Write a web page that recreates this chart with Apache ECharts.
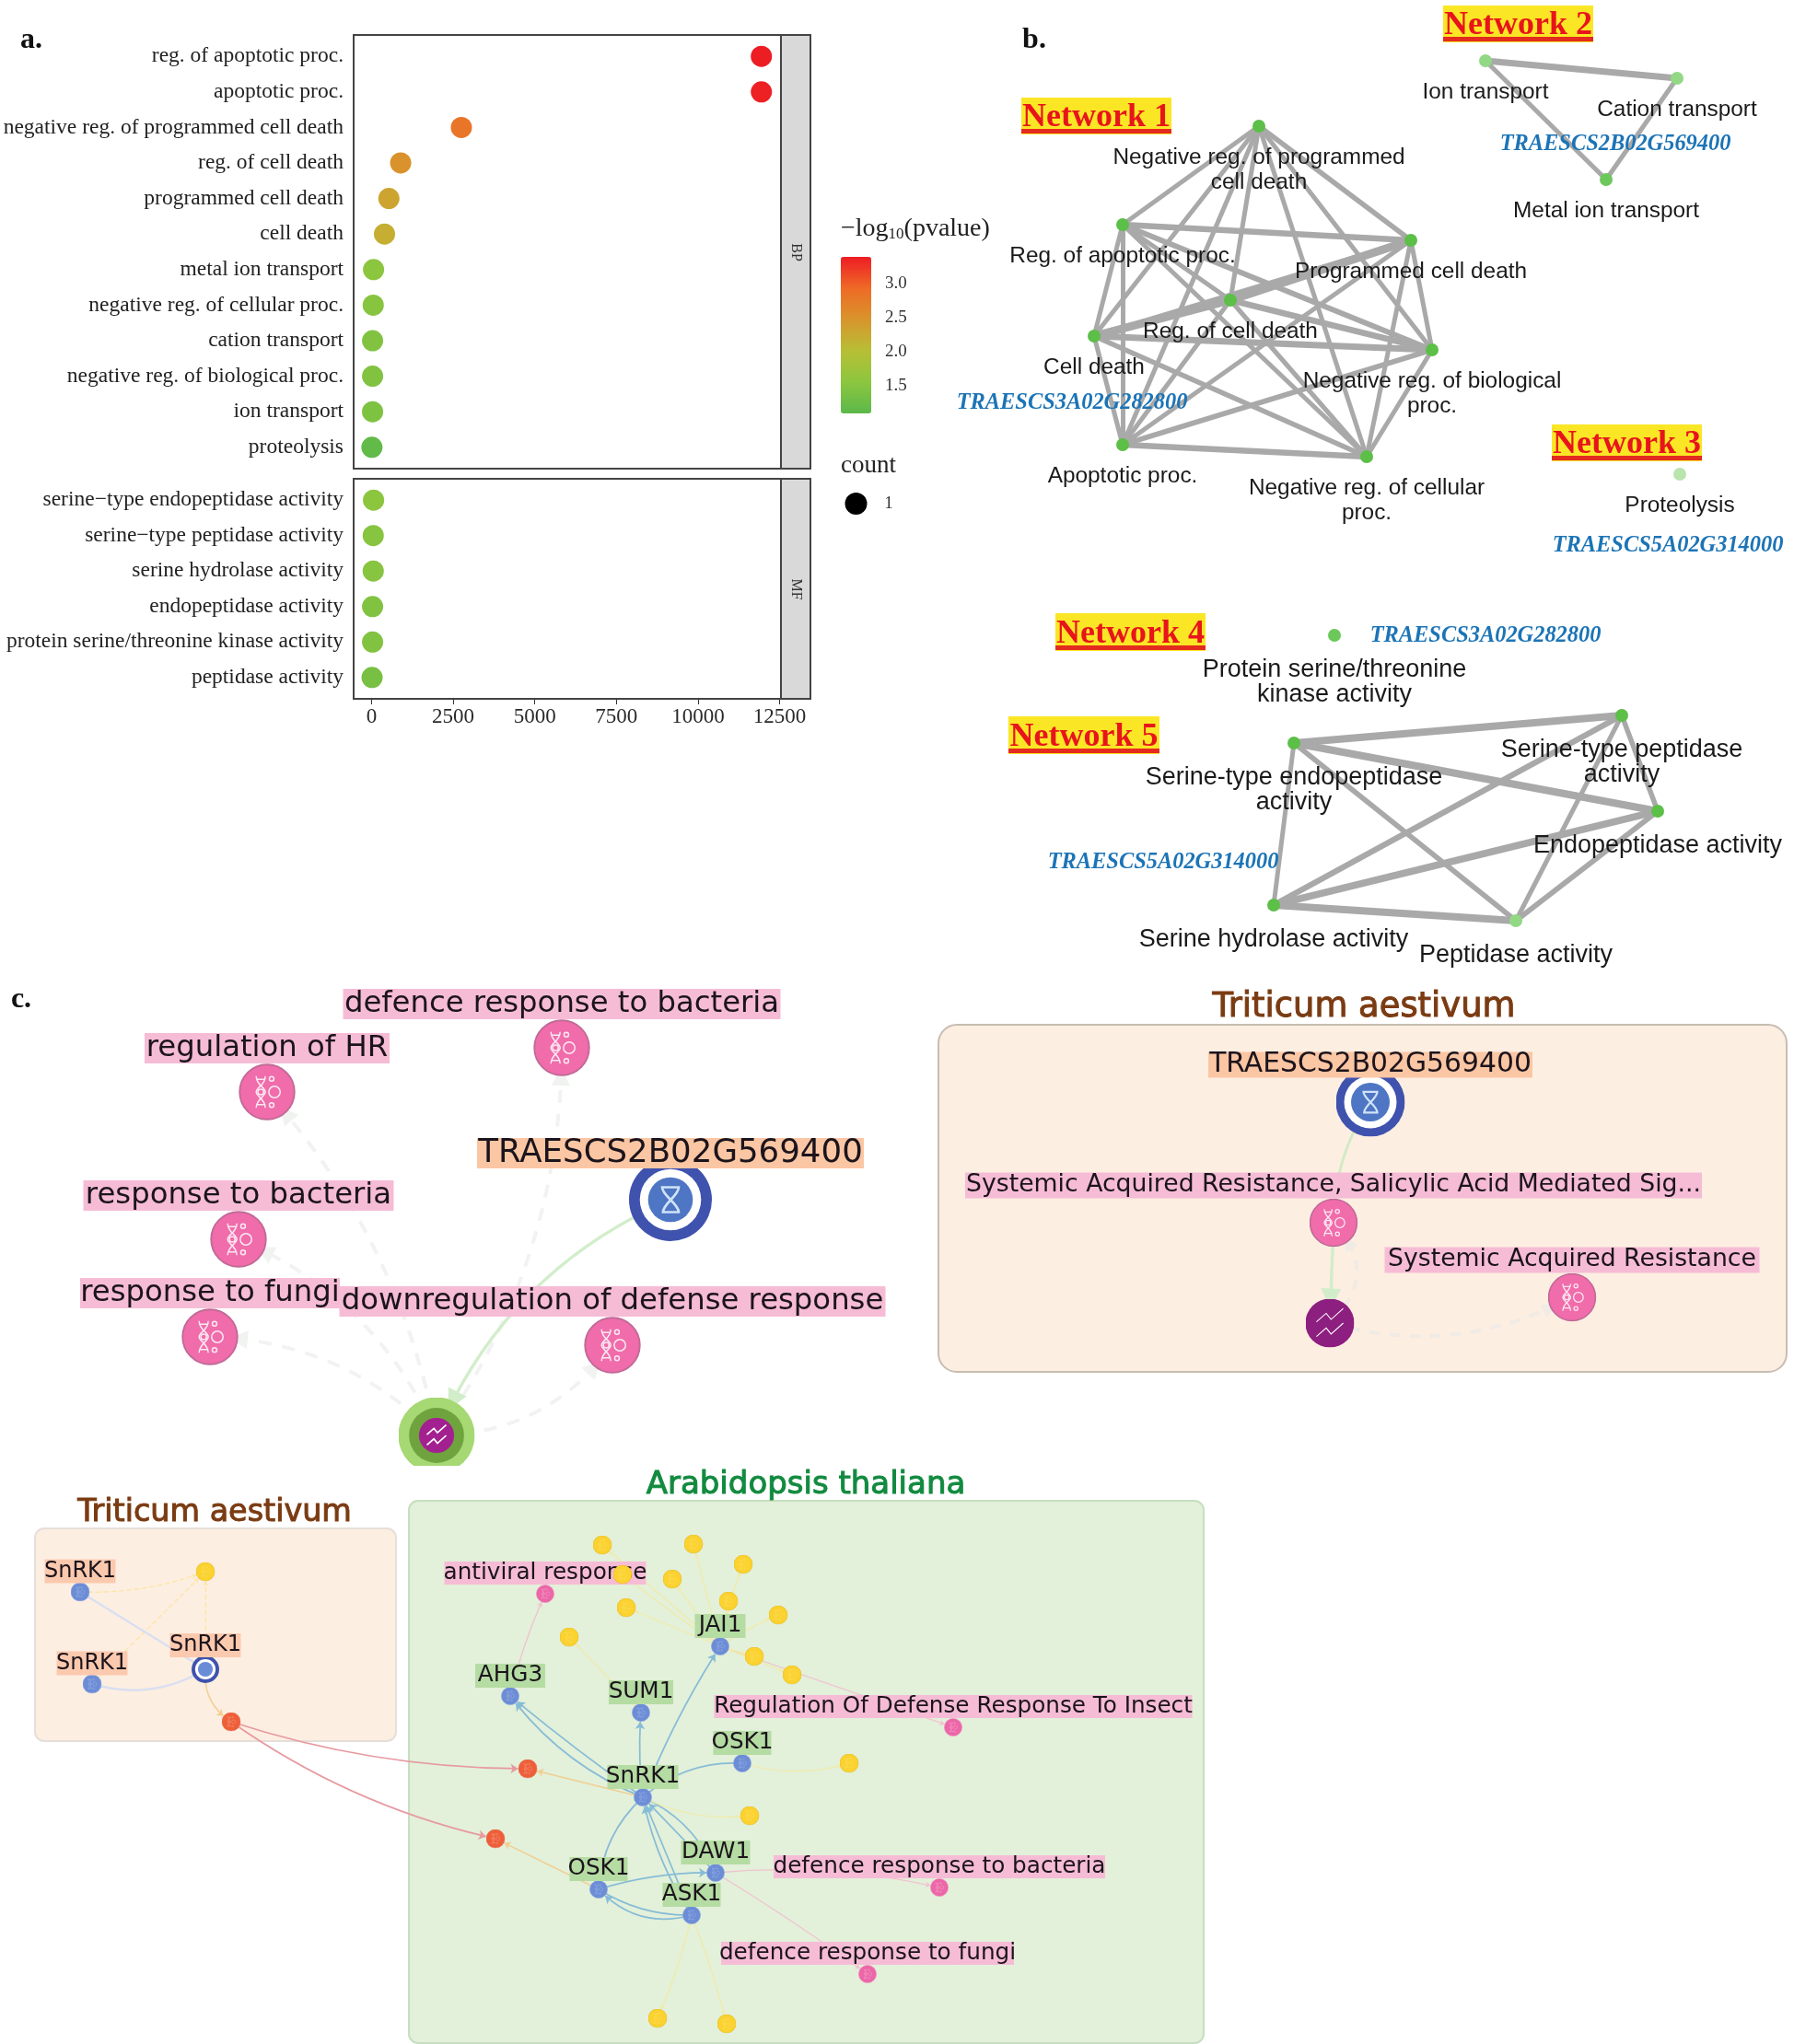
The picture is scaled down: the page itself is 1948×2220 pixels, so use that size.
<!DOCTYPE html>
<html><head><meta charset="utf-8">
<style>html,body{margin:0;padding:0;background:#fff}#c{width:1948px;height:2220px}</style>
<script src="https://cdn.jsdelivr.net/npm/echarts@6/dist/echarts.min.js"></script>
</head><body><div id="c"></div>
<script>
// ---------- Panel a data ----------
const bpTerms = ['reg. of apoptotic proc.','apoptotic proc.','negative reg. of programmed cell death','reg. of cell death','programmed cell death','cell death','metal ion transport','negative reg. of cellular proc.','cation transport','negative reg. of biological proc.','ion transport','proteolysis'];
const bpCounts = [11940,11940,2750,890,530,395,60,50,30,30,30,10];
const bpLogP = [3.38,3.36,2.8,2.5,2.3,2.2,1.55,1.5,1.45,1.45,1.42,1.15];
const mfTerms = ['serine\u2212type endopeptidase activity','serine\u2212type peptidase activity','serine hydrolase activity','endopeptidase activity','protein serine/threonine kinase activity','peptidase activity'];
const mfCounts = [60,50,50,30,30,15];
const mfLogP = [1.55,1.5,1.5,1.45,1.45,1.35];
const xTicks = [0,2500,5000,7500,10000,12500];
const xMinorTicks = [1250,3750,6250,8750,11250];
const colorTicks = [1.5,2,2.5,3];

// ---------- Panel b data (network node layouts) ----------
const net1Names = ['Negative reg. of programmed\ncell death','Reg. of apoptotic proc.','Programmed cell death','Reg. of cell death','Cell death','Negative reg. of biological\nproc.','Apoptotic proc.','Negative reg. of cellular\nproc.'];
const net1Layout = [[1367,137],[1219,244],[1532,261],[1336,326],[1188,365],[1555,380],[1219,483],[1484,496]];
const net1Links = [[0,1,5],[0,2,5.5],[0,3,5],[0,4,5],[0,5,5],[0,6,5],[0,7,5],[1,2,6.5],[1,3,5],[1,4,5],[1,5,6],[1,6,5],[1,7,5],[2,3,9],[2,4,5],[2,5,5],[2,6,5],[2,7,5],[3,4,9],[3,5,6.5],[3,6,5],[3,7,5],[4,5,7],[4,6,5],[4,7,5.5],[5,6,5.5],[5,7,5],[6,7,6.5]];
const net2Names = ['Ion transport','Cation transport','Metal ion transport'];
const net2Layout = [[1613,66],[1821,85],[1744,195]];
const net2Links = [[0,1,7],[0,2,5],[1,2,5]];
const net3Names = ['Proteolysis'];
const net3Layout = [[1824,515]];
const net4Names = ['Protein serine/threonine\nkinase activity'];
const net4Layout = [[1449,690]];
const net5Names = ['Serine-type endopeptidase\nactivity','Serine-type peptidase\nactivity','Endopeptidase activity','Serine hydrolase activity','Peptidase activity'];
const net5Layout = [[1405,807],[1761,777],[1800,881],[1383,983],[1646,1000]];
const net5Links = [[0,1,8],[0,2,8],[0,3,5],[0,4,5.5],[1,2,5.5],[1,3,6.5],[1,4,5],[2,3,7.5],[2,4,6],[3,4,8]];

// ---------- Panel c data ----------
const c1Names = ['defence response to bacteria','regulation of HR','TRAESCS2B02G569400','response to bacteria','response to fungi','downregulation of defense response',''];
const c1Layout = [[610,1138],[290,1186],[728,1303],[259,1346],[228,1452],[665,1461],[474,1559]];
const c1Kinds = ['process','process','gene','process','process','process','pathwayHalo'];
const c1Links = [[6,0,-0.16,'faint'],[6,1,-0.14,'faint'],[6,3,-0.2,'faint'],[6,4,-0.2,'faint'],[6,5,-0.25,'faint'],[2,6,-0.2,'green']];

const c2Names = ['TRAESCS2B02G569400','Systemic Acquired Resistance, Salicylic Acid Mediated Sig...','Systemic Acquired Resistance',''];
const c2Layout = [[1488,1197],[1448,1328],[1707,1409],[1444,1437]];
const c2Kinds = ['gene2','process2','process2','pathway'];
const c2Links = [[0,1,-0.15,'greenThin'],[1,3,0,'green'],[3,1,-0.5,'faintWarm'],[3,2,-0.2,'faintWarm']];

const c3Names = ['SnRK1','SnRK1','SnRK1','','', // Triticum
 'JAI1','AHG3','SUM1','OSK1','SnRK1','DAW1','OSK1','ASK1','','',
 'antiviral response','Regulation Of Defense Response To Insect','defence response to bacteria','defence response to fungi'];
const c3Layout = [[87,1729],[100,1829],[223,1813],[223,1707],[251,1870],
 [782,1788],[554,1842],[696,1860],[806,1915],[698,1952],[777,2034],[650,2052],[751,2080],[573,1921],[538,1997],
 [592,1731],[1035,1876],[1020,2050],[942,2144]];
const c3Kinds = ['wheatBlue','wheatBlue','geneSmall','yellow','red',
 'aBlue','aBlue','aBlue','aBlue','aBlue','aBlue','aBlue','aBlue','red','red',
 'pink','pink','pink','pink'];
const yellowLayout = [[654,1678],[753,1677],[807,1699],[730,1715],[676,1710],[680,1746],[791,1739],[845,1754],[618,1778],[819,1799],[860,1819],[922,1915],[814,1972],[714,2192],[789,2198]];
const yellowParents = [5,5,5,5,5,5,5,5,7,5,5,8,9,12,12];
const yellowBends = [0,0,0.05,0,0.02,0,0,0.05,0,0,0,-0.15,-0.15,0.05,0.03];
const c3Links = [[0,3,-0.1,'yellowDash'],[1,3,0,'yellowDash'],[2,3,0,'yellowDash'],[0,2,0,'lav'],[1,2,-0.22,'lav'],[2,4,-0.3,'orange'],
 [4,13,-0.08,'redLink'],[4,14,-0.1,'redLink'],
 [9,6,0.02,'blue'],[9,6,0.14,'blue'],[9,7,0.05,'blue'],[9,5,0.05,'blue'],[9,8,0.2,'blueNoArrow'],
 [11,9,0.2,'blueNoArrow'],[12,9,0.1,'blue'],[12,9,0,'blue'],[10,9,0,'blue'],[9,10,0.2,'blue'],[11,10,0.08,'blue'],[12,11,0.3,'blue'],[11,12,-0.15,'blueNoArrow'],
 [9,13,0,'orange'],[11,14,0,'orange'],[6,15,0.05,'pinkLink'],[5,16,0,'pinkLink'],[10,17,0.08,'pinkLink'],[10,18,0.02,'pinkLink']];

// ---------- Symbols ----------
const svgUrl = s => 'image://data:image/svg+xml;charset=utf-8,' + encodeURIComponent('<svg xmlns="http://www.w3.org/2000/svg" width="200" height="200" viewBox="0 0 100 100">' + s + '</svg>');
const dnaGlyph = (op) => `<g stroke="#fff" fill="none" stroke-width="2.4" opacity="${op}"><path d="M31 22C31 38 47 42 47 50S31 62 31 78M47 22C47 38 31 42 31 50S47 62 47 78M31 28H47M31 72H47"/><circle cx="39" cy="50" r="5"/><circle cx="63" cy="50" r="10"/><circle cx="58" cy="27" r="4"/><circle cx="58" cy="73" r="4"/></g>`;
const hourGlyph = `<g stroke="#cfe3f7" fill="none" stroke-width="3"><path d="M40 35H60C60 45 41 55 41 65H60C60 55 40 45 40 35Z"/></g>`;
const zigGlyph = (r) => `<g stroke="#fff" fill="none" stroke-width="2"><path d="M${50-r*0.55} ${50-r*0.05}L${50-r*0.15} ${50-r*0.4}L${50+r*0.05} ${50-r*0.15}L${50+r*0.55} ${50-r*0.6}M${50-r*0.55} ${50+r*0.55}L${50-r*0.15} ${50+r*0.2}L${50+r*0.05} ${50+r*0.45}L${50+r*0.55} ${50}"/></g>`;
const disc = (fill, stroke) => `<circle cx="50" cy="50" r="48" fill="${fill}" stroke="${stroke}" stroke-width="3"/>`;
const KINDS = {
  process:  {size:62, img: disc('#f06cab','#c06a96') + dnaGlyph(.85)},
  process2: {size:53, img: disc('#f06cab','#c06a96') + dnaGlyph(.85)},
  gene:     {size:90, img: '<circle cx="50" cy="50" r="50" fill="#3f52ad"/><circle cx="50" cy="50" r="37" fill="#fff"/><circle cx="50" cy="50" r="27" fill="#4e76c4"/>' + hourGlyph},
  gene2:    {size:75, img: '<circle cx="50" cy="50" r="50" fill="#3f52ad"/><circle cx="50" cy="50" r="38" fill="#fff"/><circle cx="50" cy="50" r="28" fill="#4e76c4"/>' + hourGlyph},
  geneSmall:{size:30, img: '<circle cx="50" cy="50" r="50" fill="#3f52ad"/><circle cx="50" cy="50" r="37" fill="#fff"/><circle cx="50" cy="50" r="27" fill="#6a8cd6"/>'},
  pathway:  {size:53, img: '<circle cx="50" cy="50" r="50" fill="#8c1f7f"/>' + zigGlyph(50)},
  pathwayHalo:{size:83, img: '<circle cx="50" cy="50" r="50" fill="#a6d873"/><circle cx="50" cy="50" r="36" fill="#6fa33e"/><circle cx="50" cy="50" r="23" fill="#a2208f"/>' + zigGlyph(23)},
  wheatBlue:{size:21, img: disc('#6c8dd6','#8aa4de') + dnaGlyph(.3)},
  aBlue:    {size:20, img: disc('#6c8dd6','#8aa4de') + dnaGlyph(.3)},
  yellow:   {size:21, img: disc('#fbd22e','#e9bb22') + dnaGlyph(.25)},
  red:      {size:21, img: disc('#ee5f39','#e9714f') + dnaGlyph(.35)},
  pink:     {size:20, img: disc('#ec66a8','#ef8cbd') + dnaGlyph(.4)}
};
const LINKS = {
  faint:     {color:'#f1f3f1', width:4, type:[14,12], arrow:20, head:'triangle'},
  faintWarm: {color:'#f0ebe4', width:4, type:[12,10], arrow:16, head:'triangle'},
  green:     {color:'#d2edca', width:3.5, type:'solid', arrow:22, head:'triangle'},
  greenThin: {color:'#d2ebc4', width:3, type:'solid', arrow:0},
  yellowDash:{color:'#fce6a8', width:1.4, type:'dashed', arrow:5},
  lav:       {color:'#d9dff0', width:2.5, type:'solid', arrow:0},
  orange:    {color:'#f1cf92', width:1.5, type:'solid', arrow:7},
  redLink:   {color:'#e79aa0', width:1.8, type:'solid', arrow:8},
  blue:      {color:'#86bcd6', width:1.7, type:'solid', arrow:8},
  blueNoArrow:{color:'#86bcd6', width:1.7, type:'solid', arrow:0},
  yellow:    {color:'#f1eba8', width:1.3, type:'solid', arrow:4},
  pinkLink:  {color:'#f0c3d0', width:1.3, type:'solid', arrow:5}
};

// ---------- Builders ----------
const CORNERS = [{x:0,y:0,symbolSize:0,name:'',itemStyle:{opacity:0},label:{show:false}},{x:1948,y:2220,symbolSize:0,name:'',itemStyle:{opacity:0},label:{show:false}}];
function graphSeries(nodes, links, z){
  return {type:'graph',layout:'none',left:0,top:0,right:0,bottom:0,silent:true,animation:false,z:z||3,
    nodeScaleRatio:0,emphasis:{disabled:true},data:nodes.concat(CORNERS).map((n,i)=>Object.assign({},n,{id:'n'+i})),links:links};
}
function netNodes(names, layout, colors, fontSize, distance){
  return names.map((n,i)=>({name:n,x:layout[i][0],y:layout[i][1],symbol:'circle',symbolSize:14,itemStyle:{color:colors[i]},
    label:{show:true,position:'bottom',distance:distance,formatter:n,color:'#1a1a1a',fontFamily:'Liberation Sans',fontSize:fontSize,lineHeight:27,align:'center'}}));
}
function netLinks(arr){ return arr.map(l=>({source:l[0],target:l[1],lineStyle:{color:'#a9a9a9',width:l[2],opacity:1,curveness:0}})); }
const labelBg = {pink:'#f6bcd6',orange:'#fbc6a3',green:'#b5dca3',wheat:'#fbc9ae'};
function richNodes(names, layout, kinds, labelSpec){
  return names.map((n,i)=>{
    const k=KINDS[kinds[i]]; const s=labelSpec(i,kinds[i]);
    return {name:n,x:layout[i][0],y:layout[i][1],symbol:svgUrl(k.img),symbolSize:k.size,
      label:n?{show:true,position:'top',distance:s.distance,formatter:n,color:'#1b141c',fontFamily:'DejaVu Sans',fontSize:s.size,lineHeight:s.lh,
        backgroundColor:s.bg,padding:[0,0],width:s.width,align:'center',overflow:'none'}:{show:false}};
  });
}
function richLinks(arr){
  return arr.map(l=>{const s=LINKS[l[3]];return {source:l[0],target:l[1],symbol:['none',s.arrow?(s.head||'arrow'):'none'],symbolSize:s.arrow||1,
    lineStyle:{color:s.color,width:s.width,type:s.type,opacity:1,curveness:l[2]}};});
}

// ---------- Graphic helpers ----------
function text(str,x,y,style){ return {type:'text',x:x,y:y,z:style.z||50,silent:true,style:Object.assign({text:str,textAlign:'center',textVerticalAlign:'middle'},style)}; }
function rect(x,y,w,h,style,r,z){ return {type:'rect',z:z==null?0:z,silent:true,shape:{x:x,y:y,width:w,height:h,r:r||0},style:style}; }
function netTitle(str,x0,x1,y0,y1){
  return [rect(x0,y0,x1-x0,y1-y0,{fill:'#fbe625'},0,51), rect(x0,y1-6,x1-x0,5,{fill:'#e32b1e'},0,52),
    text(str,(x0+x1)/2,(y0+y1)/2+2,{font:'bold 36px "Liberation Serif"',fill:'#e8141c',z:53})];
}
const geneFont='italic bold 24.4px "Liberation Serif"', geneColor='#1c74b6';
const graphics = [
  // panel boxes
  rect(1019,1113,921,377,{fill:'#fdeee2',stroke:'#c8bdb2',lineWidth:2},20,0),
  rect(38,1660,392,231,{fill:'#fdeee2',stroke:'#e6dfd9',lineWidth:2},10,0),
  rect(444,1630,863,589,{fill:'#e3f0da',stroke:'#c6dfc0',lineWidth:2},10,0),
  // facet strips
  rect(848,38,32,471,{fill:'#d9d9d9',stroke:'#444',lineWidth:2},0,1),
  rect(848,520,32,239,{fill:'#d9d9d9',stroke:'#444',lineWidth:2},0,1),
  {type:'text',x:864,y:274,rotation:-Math.PI/2,z:50,silent:true,style:{text:'BP',textAlign:'center',textVerticalAlign:'middle',font:'16px "Liberation Serif"',fill:'#333'}},
  {type:'text',x:864,y:640,rotation:-Math.PI/2,z:50,silent:true,style:{text:'MF',textAlign:'center',textVerticalAlign:'middle',font:'16px "Liberation Serif"',fill:'#333'}},
  // panel letters
  text('a.',34,44,{font:'bold 32px "Liberation Serif"',fill:'#111'}),
  text('b.',1123,44,{font:'bold 32px "Liberation Serif"',fill:'#111'}),
  text('c.',23,1086,{font:'bold 32px "Liberation Serif"',fill:'#111'}),
  // legends
  text('{a|\u2212log}{s|10}{a|(pvalue)}',913,249,{textAlign:'left',fill:'#222',rich:{a:{font:'28px "Liberation Serif"',fill:'#222'},s:{font:'17px "Liberation Serif"',fill:'#222',verticalAlign:'bottom',padding:[10,0,0,0]}}}),
  text('count',913,506,{textAlign:'left',font:'27px "Liberation Serif"',fill:'#222'}),
  {type:'circle',z:5,silent:true,shape:{cx:929.5,cy:547,r:12},style:{fill:'#000'}},
  text('1',965,547,{font:'19px "Liberation Serif"',fill:'#333'}),
  // titles
  text('Triticum aestivum',1481,1094,{font:'36.9px "DejaVu Sans"',fill:'#7b3b12',stroke:'#7b3b12',lineWidth:1}),
  text('Triticum aestivum',233,1643,{font:'33.4px "DejaVu Sans"',fill:'#7b3b12',stroke:'#7b3b12',lineWidth:1}),
  text('Arabidopsis thaliana',875,1613,{font:'34px "DejaVu Sans"',fill:'#128a3f',stroke:'#128a3f',lineWidth:1}),
  // gene ids
  text('TRAESCS2B02G569400',1754,157,{font:geneFont,fill:geneColor}),
  text('TRAESCS3A02G282800',1164,438,{font:geneFont,fill:geneColor}),
  text('TRAESCS5A02G314000',1811,593,{font:geneFont,fill:geneColor}),
  text('TRAESCS3A02G282800',1613,691,{font:geneFont,fill:geneColor}),
  text('TRAESCS5A02G314000',1263,937,{font:geneFont,fill:geneColor}),
  // crop of the halo node
  rect(420,1592,110,14,{fill:'#fff'},0,60),
  ...netTitle('Network 1',1109,1272,106,146),
  ...netTitle('Network 2',1567,1730,6,46),
  ...netTitle('Network 3',1685,1848,461,501),
  ...netTitle('Network 4',1146,1309,666,707),
  ...netTitle('Network 5',1095,1259,778,819)
];

// ---------- Panel c node/link assembly ----------
const specC1=(i,k)=>k==='gene'?{distance:-11,size:35.6,lh:33,bg:labelBg.orange,width:420}:{distance:0,size:32.3,lh:33,bg:labelBg.pink,width:[475,266,0,337,282,593][i]};
const specC2=(i,k)=>k==='gene2'?{distance:-11,size:29.8,lh:28,bg:labelBg.orange,width:352}:{distance:0,size:26.7,lh:28,bg:labelBg.pink,width:[0,800,407][i]};
const specC3=(i,k)=>{
  if(i<5) return {distance:i===2?-2:-1,size:24,lh:26,bg:labelBg.wheat,width:77};
  if(k==='aBlue') return {distance:-1,size:24.7,lh:26,bg:labelBg.green,width:{JAI1:55,AHG3:76,SUM1:70,OSK1:63,SnRK1:77,DAW1:75,ASK1:63}[c3Names[i]]};
  return {distance:0,size:24.7,lh:25,bg:labelBg.pink,width:[219,519,360,318][i-15]};
};
const c3Nodes = richNodes(c3Names,c3Layout,c3Kinds,specC3);
const yellowBase = c3Nodes.length;
const yellowNodes = yellowLayout.map(p=>({name:'',x:p[0],y:p[1],symbol:svgUrl(KINDS.yellow.img),symbolSize:KINDS.yellow.size,label:{show:false}}));
const yellowLinks = richLinks(yellowLayout.map((p,i)=>[yellowParents[i],yellowBase+i,yellowBends[i],'yellow']));

// ---------- Chart ----------
const gridLine={show:true,lineStyle:{color:'#e6e6e6',width:1.5}};
const minorLine={show:true,lineStyle:{color:'#f2f2f2',width:1}};
const axisFont={fontFamily:'Liberation Serif',fontSize:23.5,color:'#222'};
const xBase={type:'value',min:-550,max:12540,splitLine:gridLine,axisLine:{show:false}};
function xAxisFor(grid,withLabels){
  return [
    Object.assign({},xBase,{gridIndex:grid,
      axisTick:{show:withLabels,length:6,lineStyle:{color:'#333'},customValues:xTicks},
      axisLabel:{show:withLabels,customValues:xTicks,margin:8,fontFamily:'Liberation Serif',fontSize:23,color:'#2a2a2a',hideOverlap:false,formatter:v=>String(v)}}),
    Object.assign({},xBase,{gridIndex:grid,splitLine:minorLine,axisTick:{show:false,customValues:xMinorTicks},axisLabel:{show:false,customValues:xMinorTicks}})
  ];
}
function yAxisFor(grid,terms){
  const vals=terms.map((t,i)=>i+1);
  return {type:'value',gridIndex:grid,inverse:true,min:0.4,max:terms.length+0.6,splitLine:gridLine,axisLine:{show:false},
    axisTick:{show:true,length:6,lineStyle:{color:'#333'},customValues:vals},
    axisLabel:Object.assign({customValues:vals,margin:11,padding:[3,0,0,0],formatter:v=>terms[v-1]||''},axisFont)};
}
const chart=echarts.init(document.getElementById('c'),null,{renderer:'canvas',width:1948,height:2220});
chart.setOption({
  animation:false,backgroundColor:'#fff',
  grid:[
    {left:384,top:38,width:464,height:471,show:true,borderColor:'#444',borderWidth:2,backgroundColor:'#fff',z:1},
    {left:384,top:520,width:464,height:239,show:true,borderColor:'#444',borderWidth:2,backgroundColor:'#fff',z:1},
    {left:913,top:279,width:33,height:170,show:false,z:6}
  ],
  xAxis:[...xAxisFor(0,false),...xAxisFor(1,true),{type:'value',gridIndex:2,show:false,min:0,max:1}],
  yAxis:[yAxisFor(0,bpTerms),yAxisFor(1,mfTerms),
    {type:'value',gridIndex:2,position:'right',min:1.094,max:3.385,splitLine:{show:false},axisLine:{show:false},
     axisTick:{show:true,inside:true,length:7,lineStyle:{color:'#fff',width:1.5},customValues:colorTicks},
     axisLabel:{customValues:colorTicks,margin:15,fontFamily:'Liberation Serif',fontSize:19,color:'#333',formatter:v=>v.toFixed(1)},z:7}],
  visualMap:{type:'continuous',seriesIndex:[0,1],dimension:2,min:1.094,max:3.385,left:913,top:279,itemWidth:33,itemHeight:170,calculable:false,text:null,showLabel:false,
    textStyle:{fontSize:0},inRange:{color:['#5cb84a','#8cc63f','#b7bf35','#d8952c','#ef6a26','#ed1c24']},realtime:false,padding:0,z:5},
  graphic:{elements:graphics},
  series:[
    {type:'scatter',xAxisIndex:0,yAxisIndex:0,symbolSize:23,silent:true,z:3,itemStyle:{opacity:1},data:bpCounts.map((v,i)=>[v,i+1,bpLogP[i]])},
    {type:'scatter',xAxisIndex:2,yAxisIndex:1,symbolSize:23,silent:true,z:3,itemStyle:{opacity:1},data:mfCounts.map((v,i)=>[v,i+1,mfLogP[i]])},
    graphSeries(netNodes(net1Names,net1Layout,Array(8).fill('#5cbf47'),24.4,14),netLinks(net1Links)),
    graphSeries(netNodes(net2Names,net2Layout,['#93d885','#93d885','#6cc85a'],24.4,14),netLinks(net2Links)),
    graphSeries(netNodes(net3Names,net3Layout,['#b9e4ae'],24.4,14),[]),
    graphSeries(netNodes(net4Names,net4Layout,['#6cc85a'],27,17.5),[]),
    graphSeries(netNodes(net5Names,net5Layout,['#5cbf47','#5cbf47','#5cbf47','#5cbf47','#93d885'],27,17.5),netLinks(net5Links)),
    graphSeries(richNodes(c1Names,c1Layout,c1Kinds,specC1),richLinks(c1Links)),
    graphSeries(richNodes(c2Names,c2Layout,c2Kinds,specC2),richLinks(c2Links)),
    graphSeries(c3Nodes.concat(yellowNodes),richLinks(c3Links).concat(yellowLinks)),
    graphSeries([yellowNodes[4]],[],4)
  ]
});
</script></body></html>
